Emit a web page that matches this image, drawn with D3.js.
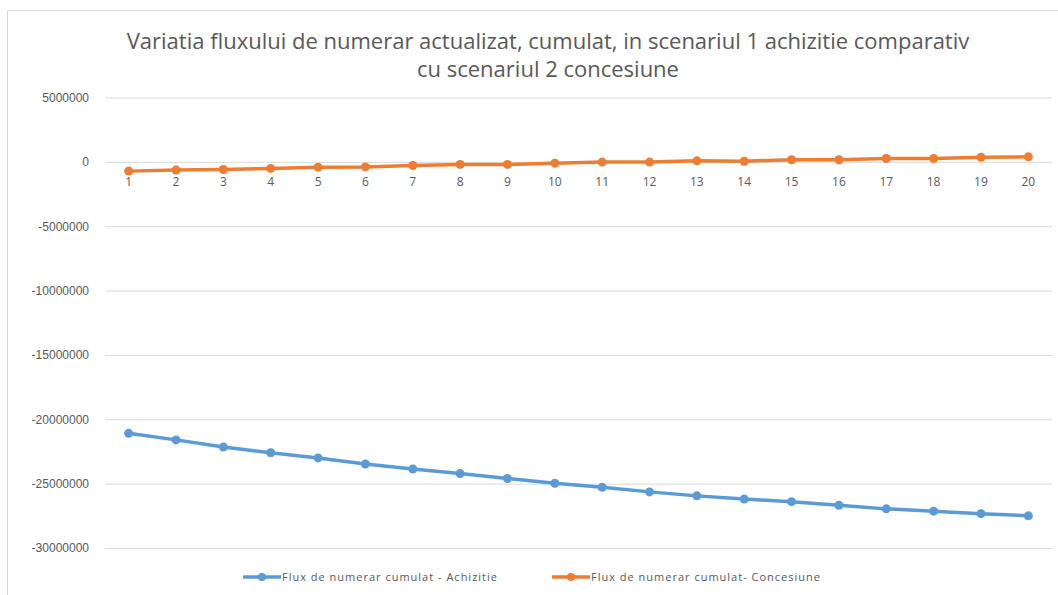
<!DOCTYPE html>
<html>
<head>
<meta charset="utf-8">
<script src="https://cdn.jsdelivr.net/npm/d3@7"></script>
<style>
  body { margin: 0; background: #fff; }
  svg { display: block; font-family: 'Open Sans', sans-serif; }
</style>
</head>
<body>
<div id="chart"></div>
<script>
const years = d3.range(1, 21);
const achizitie = [
  -21090000, -21600000, -22150000, -22600000, -23000000,
  -23470000, -23860000, -24220000, -24600000, -24970000,
  -25280000, -25640000, -25950000, -26200000, -26400000,
  -26680000, -26960000, -27140000, -27330000, -27500000
];
const concesiune = [
  -720000, -640000, -590000, -510000, -410000,
  -390000, -280000, -200000, -200000, -100000,
  -20000, -20000, 80000, 50000, 160000,
  160000, 260000, 260000, 360000, 390000
];
const yTicks = [5000000, 0, -5000000, -10000000, -15000000, -20000000, -25000000, -30000000];
const titleLines = [
  'Variatia fluxului de numerar actualizat, cumulat, in scenariul 1 achizitie comparativ',
  'cu scenariul 2 concesiune'
];
const seriesNames = ['Flux de numerar cumulat - Achizitie', 'Flux de numerar cumulat- Concesiune'];
const colors = ['#5b9bd5', '#ed7d31'];

const width = 1058, height = 595;
const plot = { left: 105, right: 1052, top: 97.5, bottom: 548 };

const svg = d3.select('#chart').append('svg')
  .attr('width', width)
  .attr('height', height);

// chart frame (only top and left edges are visible in the crop)
svg.append('path')
  .attr('d', `M7.5,${height} V10.5 H${width}`)
  .attr('fill', 'none')
  .attr('stroke', '#d9d9d9');

const x = d3.scaleBand().domain(years).range([plot.left, plot.right]);
const cx = d => x(d) + x.bandwidth() / 2;
const y = d3.scaleLinear().domain([-30000000, 5000000]).range([plot.bottom, plot.top]);

// gridlines + y labels (plain hyphen, like Excel)
const yAxis = svg.append('g')
  .attr('transform', `translate(${plot.left},0)`)
  .call(d3.axisLeft(y).tickValues(yTicks).tickFormat(d => String(d))
    .tickSize(-(plot.right - plot.left)).tickPadding(16));
yAxis.select('.domain').remove();
yAxis.selectAll('.tick line').attr('stroke', '#d9d9d9');
yAxis.selectAll('.tick text')
  .attr('fill', '#595959')
  .style('font-size', '12px');

// category labels sit under the zero line
svg.append('g')
  .selectAll('text')
  .data(years)
  .join('text')
  .attr('x', d => cx(d))
  .attr('y', y(0) + 24)
  .attr('text-anchor', 'middle')
  .attr('fill', '#595959')
  .style('font-size', '12px')
  .text(d => d);

// title
svg.append('g')
  .selectAll('text')
  .data(titleLines)
  .join('text')
  .attr('x', 548)
  .attr('y', (d, i) => 49 + i * 28)
  .attr('text-anchor', 'middle')
  .attr('fill', '#595959')
  .style('font-size', '22px')
  .text(d => d);

// series
const line = d3.line().x((d, i) => cx(years[i])).y(d => y(d));
[achizitie, concesiune].forEach((values, k) => {
  const g = svg.append('g');
  g.append('path')
    .datum(values)
    .attr('fill', 'none')
    .attr('stroke', colors[k])
    .attr('stroke-width', 3.5)
    .attr('stroke-linejoin', 'round')
    .attr('d', line);
  g.selectAll('circle')
    .data(values)
    .join('circle')
    .attr('cx', (d, i) => cx(years[i]))
    .attr('cy', d => y(d))
    .attr('r', 4.5)
    .attr('fill', colors[k]);
});

// legend
const legendX = [243, 552];
const legend = svg.append('g')
  .selectAll('g')
  .data(seriesNames)
  .join('g')
  .attr('transform', (d, i) => `translate(${legendX[i]},577)`);
legend.append('line')
  .attr('x1', 0).attr('x2', 38)
  .attr('stroke', (d, i) => colors[i])
  .attr('stroke-width', 3.5);
legend.append('circle')
  .attr('cx', 19).attr('r', 4)
  .attr('fill', (d, i) => colors[i]);
legend.append('text')
  .attr('x', 39)
  .attr('dy', '0.35em')
  .attr('fill', '#595959')
  .style('font-size', '11px')
  .style('letter-spacing', '1px')
  .text(d => d);
</script>
</body>
</html>
